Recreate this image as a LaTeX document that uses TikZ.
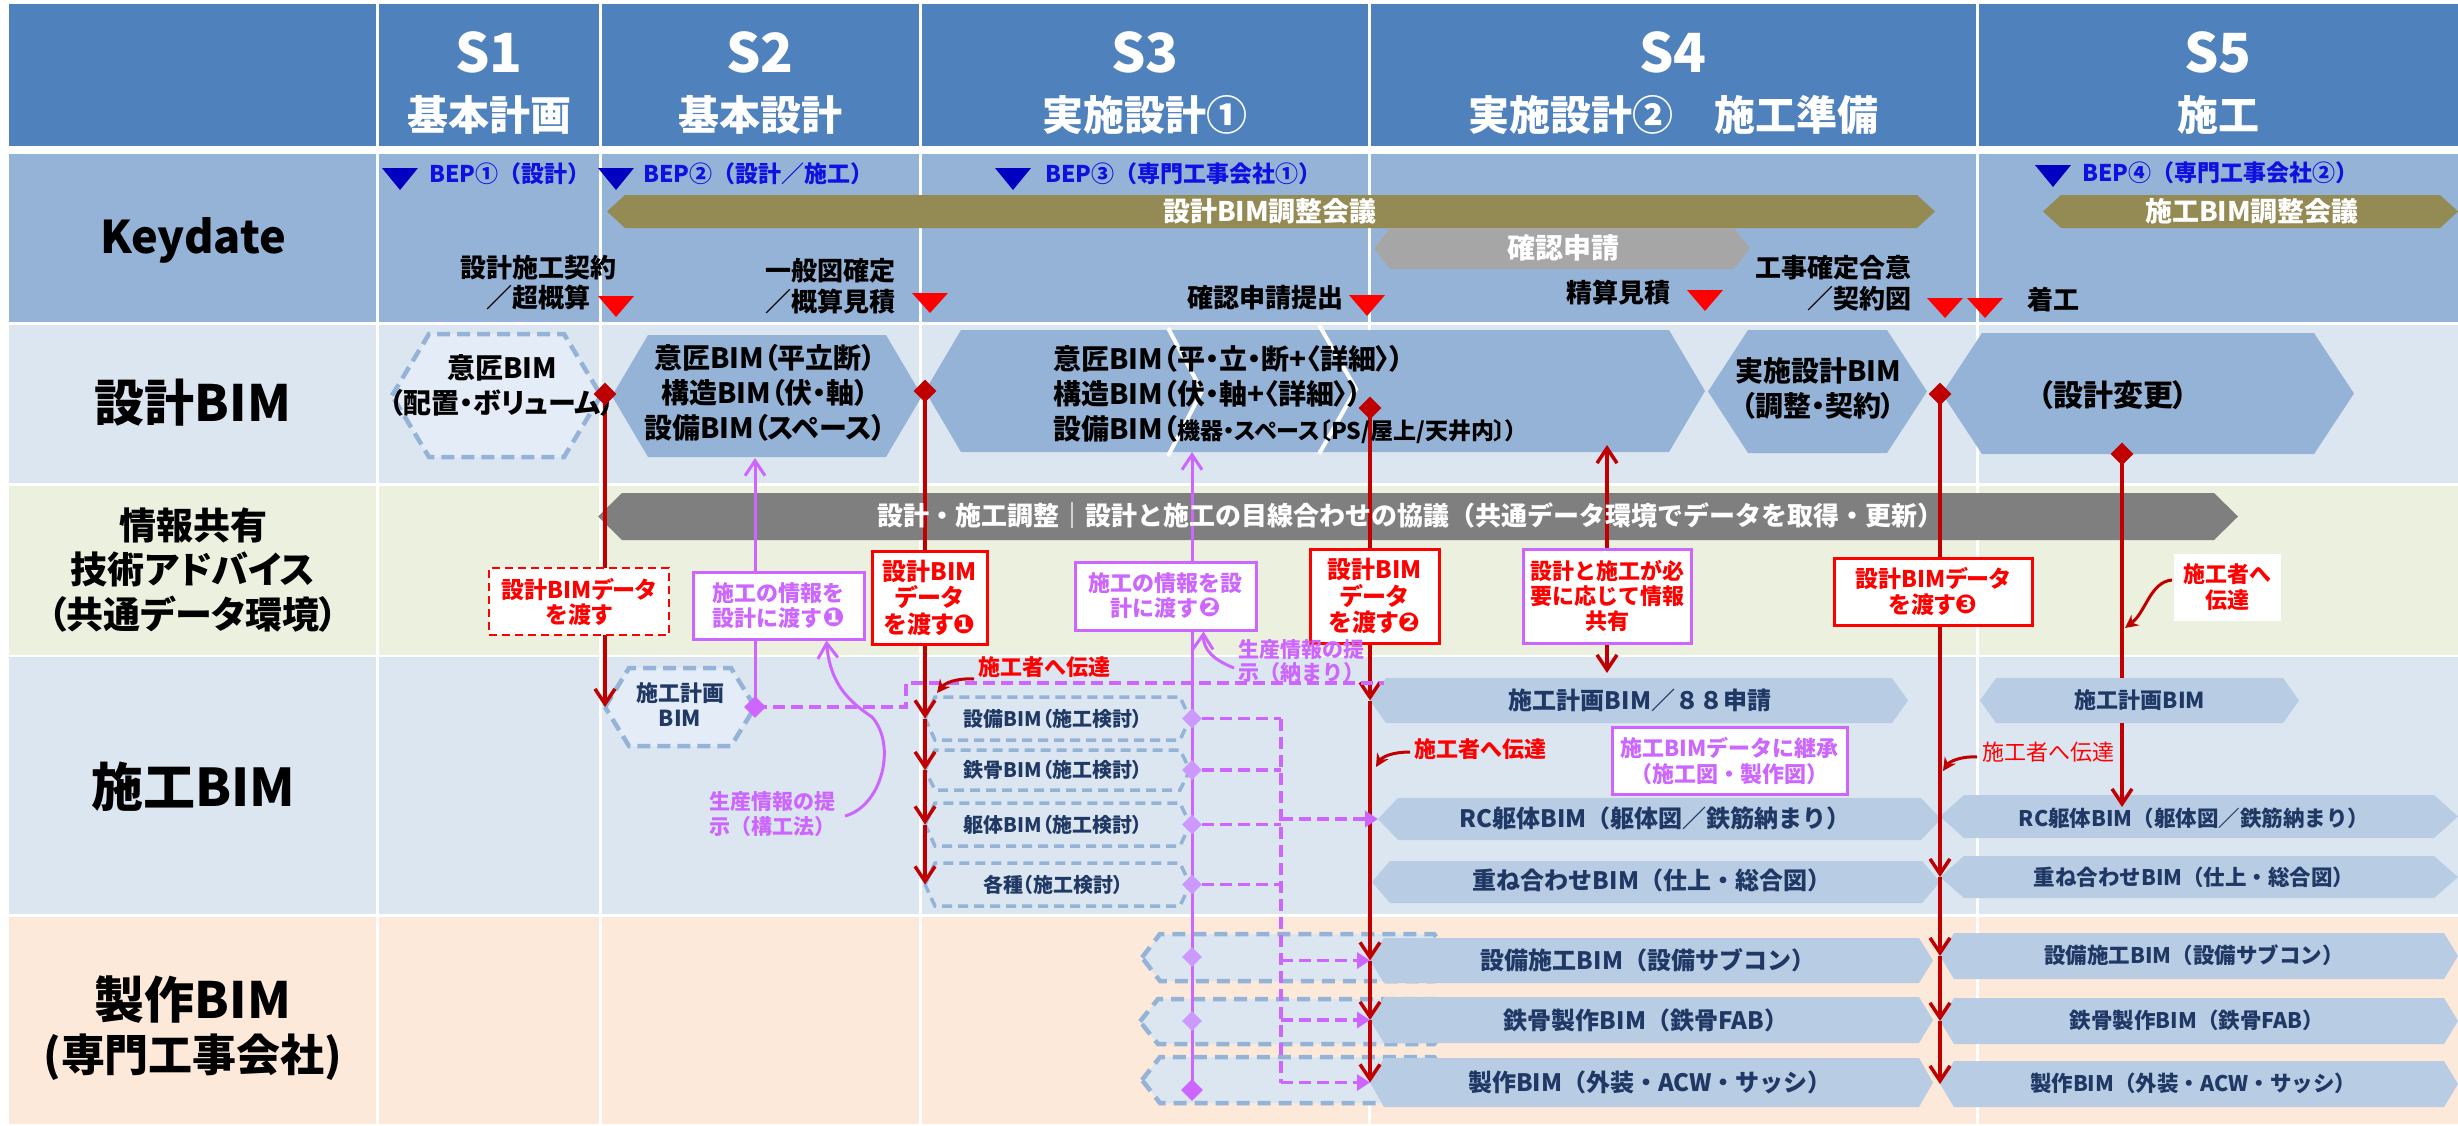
\documentclass[tikz,border=0pt]{standalone}
\usepackage{fontspec}
\setmainfont{Noto Sans CJK JP}
\newfontfamily\jpp{Noto Sans CJK JP}[RawFeature=+palt]
\newfontfamily\dvs{DejaVu Sans}
\usetikzlibrary{arrows.meta,shapes.geometric}
\pgfdeclarelayer{back}
\pgfdeclarelayer{lines}
\pgfsetlayers{back,lines,main}

\definecolor{hdr}{HTML}{4F81BD}
\definecolor{kd}{HTML}{95B3D7}
\definecolor{rowa}{HTML}{DCE6F1}
\definecolor{rowi}{HTML}{EBF1DE}
\definecolor{rowf}{HTML}{FDE9D9}
\definecolor{hexd}{HTML}{95B3D7}
\definecolor{hexc}{HTML}{B8CCE4}
\definecolor{dashf}{HTML}{E4ECF7}
\definecolor{olv}{HTML}{948A54}
\definecolor{gry}{HTML}{A6A6A6}
\definecolor{dgry}{HTML}{7F7F7F}
\definecolor{dred}{HTML}{C00000}
\definecolor{brd}{HTML}{FF0000}
\definecolor{purp}{HTML}{CC66FF}
\definecolor{lpurp}{HTML}{CC99FF}
\definecolor{navy}{HTML}{1F3864}
\definecolor{bept}{HTML}{1010E0}
\definecolor{bepm}{HTML}{0000C0}

\newcommand\fsz[2]{\fontsize{#1}{#2}\selectfont}
\newcommand\cdig[1]{{\dvs\fontsize{26}{26}\selectfont #1}}
% #1 style, #2 name, #3 xl, #4 xr, #5 yt, #6 yb, #7 inset
\newcommand\myhex[7]{%
  \path[#1] (#3,{(#5+#6)/2}) -- ({#3+#7},#5) -- ({#4-#7},#5) -- (#4,{(#5+#6)/2}) -- ({#4-#7},#6) -- ({#3+#7},#6) -- cycle;
  \coordinate (#2) at ({(#3+#4)/2},{(#5+#6)/2});
  \coordinate (#2-l) at (#3,{(#5+#6)/2});
  \coordinate (#2-r) at (#4,{(#5+#6)/2});
}
\newcommand\btri[3]{\fill[bepm] ({#1-18},#2) -- ({#1+18},#2) -- (#1,#3) -- cycle;}
\newcommand\rtri[3]{\fill[brd] ({#1-18},#2) -- ({#1+18},#2) -- (#1,#3) -- cycle;}

\begin{document}
\begin{tikzpicture}[x=1pt,y=-1pt,
  redl/.style={draw=dred, line width=3.5pt},
  purl/.style={draw=purp, line width=3pt},
  purd/.style={draw=purp, line width=3.5pt, dash pattern=on 12pt off 6pt},
  rbarb/.style={-{Straight Barb[length=15pt,width=20pt]}},
  pbarb/.style={-{Straight Barb[length=15pt,width=20pt]}},
  ptri/.style={-{Triangle[length=13pt,width=16pt]}},
  rstl/.style={-{Stealth[length=13pt,width=13pt]}},
  redc/.style={draw=dred, line width=3pt},
  dashh/.style={draw=kd, line width=4.5pt, dash pattern=on 13pt off 7pt, fill=dashf},
  dashs/.style={draw=kd, line width=3.5pt, dash pattern=on 10pt off 6pt, fill=rowa},
  dashf/.style={draw=kd, line width=4.5pt, dash pattern=on 13pt off 8pt, fill=rowa},
  rdia/.style={diamond, aspect=1, fill=dred, minimum size=23pt, inner sep=0pt},
  pdia/.style={diamond, aspect=1, fill=purp, minimum size=22pt, inner sep=0pt},
  ldia/.style={diamond, aspect=1, fill=lpurp, minimum size=20pt, inner sep=0pt},
  tx/.style={inner sep=0pt, align=center},
  rbox/.style={draw=brd, line width=3pt, fill=white, inner sep=0pt, align=center, text=brd},
  rdbox/.style={draw=brd, line width=2.5pt, dash pattern=on 8pt off 5pt, fill=white, inner sep=0pt, align=center, text=brd},
  pbox/.style={draw=purp, line width=3pt, fill=white, inner sep=0pt, align=center, text=purp},
  wbox/.style={fill=white, inner sep=0pt, align=center, text=brd},
]
\useasboundingbox (0,0) rectangle (2458,1125);

\begin{pgfonlayer}{back}
\fill[white] (0,0) rectangle (2458,1125);
\foreach \ya/\yb/\col in {4/146/hdr, 154/322/kd, 325/483/rowa, 486/655/rowi, 657/914/rowa, 917/1124/rowf}{
  \foreach \xa/\xb in {9/375.5, 378.5/598.5, 601.5/918.5, 921.5/1367.5, 1370.5/1975.5, 1978.5/2458}{
    \fill[\col] (\xa,\ya) rectangle (\xb,\yb);
  }
}
% keydate shapes
\myhex{fill=olv}{kb1}{607}{1935}{195}{228}{18}
\myhex{fill=gry}{kg}{1374}{1750}{228}{269}{16}
\myhex{fill=olv}{kb2}{2043}{2458}{195}{228}{18}
\btri{400}{168}{190}
\btri{616}{168}{190}
\btri{1013}{168}{190}
\btri{2053}{165}{187}
\rtri{616}{296}{317}
\rtri{930}{293}{313}
\rtri{1367}{295}{316}
\rtri{1705}{290}{311}
\rtri{1945}{298}{318}
\rtri{1985}{298}{318}
% design BIM
\myhex{dashh}{hs1}{392}{601}{334}{457}{37}
\myhex{fill=hexd}{hs2}{612}{922}{335}{457}{36}
\myhex{fill=hexd}{hs3}{925}{1705}{330}{452}{36}
\myhex{fill=hexd}{hs4}{1708}{1927}{330}{453}{40}
\myhex{fill=hexd}{hs5}{1942}{2354}{333}{454}{40}
\draw[white, line width=4pt] (1168,328) -- (1202,391) -- (1168,456);
\draw[white, line width=4pt] (1319,325) -- (1356,389) -- (1319,454);
% info bar
\myhex{fill=dgry}{ib}{598}{2238}{493}{540}{24}
% construction BIM
\myhex{dashh}{hp}{605}{755}{668}{746}{24}
\myhex{dashs}{k1}{925}{1190}{697}{740}{10}
\myhex{dashs}{k2}{925}{1190}{750}{790}{10}
\myhex{dashs}{k3}{925}{1190}{803}{846}{10}
\myhex{dashs}{k4}{925}{1190}{863}{906}{10}
\myhex{fill=hexc}{h88}{1370}{1908}{678}{723}{16}
\myhex{fill=hexc}{rc4}{1378}{1941}{798}{840}{20}
\myhex{fill=hexc}{ks4}{1372}{1940}{861}{903}{18}
\myhex{fill=hexc}{hp5}{1980}{2299}{678}{723}{16}
\myhex{fill=hexc}{rc5}{1940}{2458}{795}{838}{24}
\myhex{fill=hexc}{ks5}{1940}{2458}{856}{898}{24}
% fabrication
\myhex{dashf}{fd1}{1142}{1452}{934}{981}{18}
\myhex{dashf}{fd2}{1140}{1452}{999}{1044}{18}
\myhex{dashf}{fd3}{1142}{1452}{1057}{1103}{18}
\myhex{fill=hexc}{f41}{1370}{1933}{938}{983}{14}
\myhex{fill=hexc}{f42}{1370}{1933}{997}{1043}{14}
\myhex{fill=hexc}{f43}{1370}{1933}{1058}{1107}{14}
\myhex{fill=hexc}{f51}{1940}{2458}{933}{979}{14}
\myhex{fill=hexc}{f52}{1940}{2458}{998}{1044}{14}
\myhex{fill=hexc}{f53}{1940}{2458}{1061}{1107}{14}
% free ends
\coordinate (r5a) at (2122,678);
\coordinate (r5b) at (2122,723);
\coordinate (r5e) at (2122,807);
\coordinate (r6t) at (1607,445);
\coordinate (r6b) at (1607,673);
\coordinate (p1t) at (755,458);
\coordinate (p2t) at (1192,452);
\coordinate (dq) at (1384,683);
\coordinate (bus1) at (1281,718.5);
\coordinate (bus2) at (1281,1082.5);
\coordinate (c1s) at (845,816);
\coordinate (c2s) at (1234,668);
\coordinate (c3s) at (974,679);
\coordinate (c3e) at (937,693);
\coordinate (c4s) at (1410,752);
\coordinate (c4e) at (1376,767);
\coordinate (c5s) at (1977,757);
\coordinate (c5e) at (1943,771);
\coordinate (c6s) at (2172,580);
\coordinate (c6e) at (2125,628);
\end{pgfonlayer}

% ---------- header ----------
\node[tx, text=white, font={\fsz{54}{60}\bfseries}] (h1s) at (489,52) {S1};
\node[tx, text=white, font={\fsz{41}{46}\bfseries}] (h1n) at (489,115) {基本計画};
\node[tx, text=white, font={\fsz{54}{60}\bfseries}] (h2s) at (760,52) {S2};
\node[tx, text=white, font={\fsz{41}{46}\bfseries}] (h2n) at (760,115) {基本設計};
\node[tx, text=white, font={\fsz{54}{60}\bfseries}] (h3s) at (1145,52) {S3};
\node[tx, text=white, font={\fsz{41}{46}\bfseries}] (h3n) at (1145,115) {実施設計①};
\node[tx, text=white, font={\fsz{54}{60}\bfseries}] (h4s) at (1673,52) {S4};
\node[tx, text=white, font={\fsz{41}{46}\bfseries}] (h4n) at (1673,115) {実施設計②　施工準備};
\node[tx, text=white, font={\fsz{54}{60}\bfseries}] (h5s) at (2218,52) {S5};
\node[tx, text=white, font={\fsz{41}{46}\bfseries}] (h5n) at (2218,115) {施工};

% ---------- row labels ----------
\node[tx, font={\fsz{45}{50}\bfseries}] (lk) at (193,240) {Keydate};
\node[tx, font={\fsz{50}{55}\bfseries}] (ld) at (193,403) {設計BIM};
\node[tx, font={\jpp\fsz{37}{44.5}\bfseries}] (li) at (193,570) {情報共有\\技術アドバイス\\（共通データ環境）};
\node[tx, font={\fsz{52}{56}\bfseries}] (lc) at (193,787) {施工BIM};
\node[tx, font={\fsz{50}{55}\bfseries}] (lf1) at (193,1000) {製作BIM};
\node[tx, font={\fsz{44}{50}\bfseries}] (lf2) at (193,1057) {(専門工事会社)};

% ---------- keydate ----------
\node[tx, anchor=west, text=bept, font={\fsz{23}{26}\bfseries}] (bep1) at (429,174) {BEP①（設計）};
\node[tx, anchor=west, text=bept, font={\fsz{23}{26}\bfseries}] (bep2) at (643,174) {BEP②（設計／施工）};
\node[tx, anchor=west, text=bept, font={\fsz{23}{26}\bfseries}] (bep3) at (1045,174) {BEP③（専門工事会社①）};
\node[tx, anchor=west, text=bept, font={\fsz{23}{26}\bfseries}] (bep4) at (2082,173) {BEP④（専門工事会社②）};
\node[tx, text=white, font={\fsz{27}{30}\bfseries}] (kb1t) at (1270,211) {設計BIM調整会議};
\node[tx, text=white, font={\fsz{27}{30}\bfseries}] (kb2t) at (2252,211) {施工BIM調整会議};
\node[tx, text=white, font={\fsz{28}{30}\bfseries}] (kgt) at (1563,248) {確認申請};
\node[tx, font={\fsz{26}{30}\bfseries}] (m1) at (538,283) {設計施工契約\\／超概算};
\node[tx, font={\fsz{26}{31}\bfseries}] (m2) at (830,286) {一般図確定\\／概算見積};
\node[tx, font={\fsz{26}{30}\bfseries}] (m3) at (1265,298) {確認申請提出};
\node[tx, font={\fsz{26}{30}\bfseries}] (m4) at (1618,293) {精算見積};
\node[tx, align=right, anchor=east, font={\fsz{26}{31}\bfseries}] (m5) at (1912,283) {工事確定合意\\／契約図};
\node[tx, font={\fsz{26}{30}\bfseries}] (m6) at (2053,300) {着工};

% ---------- design BIM texts ----------
\node[tx, font={\jpp\fsz{28}{35}\bfseries}] (s1t) at (502,385) {意匠BIM\\（配置・ボリューム）};
\node[tx, font={\jpp\fsz{28}{35}\bfseries}] (s2t) at (765,393) {意匠BIM（平立断）\\構造BIM（伏・軸）\\設備BIM（スペース）};
\node[tx, align=left, anchor=west, font={\jpp\fsz{28}{35}\bfseries}] (s3t) at (1053,395) {意匠BIM（平・立・断+〈詳細〉）\\構造BIM（伏・軸+〈詳細〉）\\設備BIM（{\fsz{23}{35}機器・スペース〔PS/屋上/天井内〕）}};
\node[tx, font={\jpp\fsz{28}{35}\bfseries}] (s4t) at (1818,388) {実施設計BIM\\（調整・契約）};
\node[tx, font={\jpp\fsz{30}{35}\bfseries}] (s5t) at (2113,395) {（設計変更）};

% ---------- info row ----------
\node[tx, text=white, font={\fsz{26}{30}\bfseries}] (gbt) at (1410,516) {設計・施工調整｜設計と施工の目線合わせの協議（共通データ環境でデータを取得・更新）};
\node[rdbox, minimum width=180pt, minimum height=67pt, font={\jpp\fsz{23}{25}\bfseries}] (bd0) at (579,601.5) {設計BIMデータ\\を渡す};
\node[pbox, minimum width=171pt, minimum height=67pt, font={\fsz{22}{25}\bfseries}] (bp1) at (778.5,605.5) {施工の情報を\\設計に渡す\cdig{❶}};
\node[rbox, minimum width=115pt, minimum height=93pt, font={\jpp\fsz{24}{26.5}\bfseries}] (br1) at (929.5,597.5) {設計BIM\\データ\\を渡す\cdig{❶}};
\node[pbox, minimum width=181pt, minimum height=68pt, font={\fsz{22}{25}\bfseries}] (bp2) at (1165.5,596) {施工の情報を設\\計に渡す\cdig{❷}};
\node[rbox, minimum width=129pt, minimum height=94pt, font={\jpp\fsz{24}{26.5}\bfseries}] (br2) at (1374.5,596) {設計BIM\\データ\\を渡す\cdig{❷}};
\node[pbox, text=brd, minimum width=168pt, minimum height=94pt, font={\fsz{22}{25}\bfseries}] (bp3) at (1607,596) {設計と施工が必\\要に応じて情報\\共有};
\node[rbox, minimum width=198pt, minimum height=67pt, font={\jpp\fsz{23}{26}\bfseries}] (br3) at (1933,591.5) {設計BIMデータ\\を渡す\cdig{❸}};
\node[wbox, minimum width=107pt, minimum height=67pt, font={\fsz{22}{26}\bfseries}] (bw) at (2227.5,587.5) {施工者へ\\伝達};
\node[tx, align=left, anchor=west, text=purp, font={\fsz{21}{25}\bfseries}] (lb1) at (709,814.5) {生産情報の提\\示（構工法）};
\node[tx, align=left, anchor=west, text=purp, font={\fsz{21}{23}\bfseries}] (lb2) at (1238,661.5) {生産情報の提\\示（納まり）};

% ---------- construction BIM texts ----------
\node[tx, text=navy, font={\fsz{22}{25}\bfseries}] (hpt) at (680,704.5) {施工計画\\BIM};
\node[tx, text=navy, font={\jpp\fsz{20}{24}\bfseries}] (k1t) at (1053,718.5) {設備BIM（施工検討）};
\node[tx, text=navy, font={\jpp\fsz{20}{24}\bfseries}] (k2t) at (1053,770) {鉄骨BIM（施工検討）};
\node[tx, text=navy, font={\jpp\fsz{20}{24}\bfseries}] (k3t) at (1053,824.5) {躯体BIM（施工検討）};
\node[tx, text=navy, font={\jpp\fsz{20}{24}\bfseries}] (k4t) at (1053,884.5) {各種（施工検討）};
\node[tx, text=navy, font={\fsz{24}{28}\bfseries}] (t88) at (1640,700) {施工計画BIM／８８申請};
\node[tx, text=navy, font={\fsz{24}{28}\bfseries}] (rc4t) at (1655,818) {RC躯体BIM（躯体図／鉄筋納まり）};
\node[tx, text=navy, font={\fsz{24}{28}\bfseries}] (ks4t) at (1652,880) {重ね合わせBIM（仕上・総合図）};
\node[tx, text=navy, font={\fsz{22}{26}\bfseries}] (hp5t) at (2140,700) {施工計画BIM};
\node[tx, text=navy, font={\fsz{21.5}{26}\bfseries}] (rc5t) at (2194,818) {RC躯体BIM（躯体図／鉄筋納まり）};
\node[tx, text=navy, font={\fsz{21.5}{26}\bfseries}] (ks5t) at (2194,877) {重ね合わせBIM（仕上・総合図）};
\node[pbox, minimum width=235pt, minimum height=67pt, font={\fsz{22}{26}\bfseries}] (bp4) at (1729.5,760.5) {施工BIMデータに継承\\（施工図・製作図）};
\node[tx, text=brd, font={\fsz{22}{25}\bfseries}] (tl1) at (1044,667) {施工者へ伝達};
\node[tx, text=brd, font={\fsz{22}{25}\bfseries}] (tl2) at (1480,749) {施工者へ伝達};
\node[tx, text=brd, font={\fsz{22}{25}}] (tl3) at (2048,752) {施工者へ伝達};

% ---------- fabrication texts ----------
\node[tx, text=navy, font={\fsz{24}{28}\bfseries}] (f41t) at (1648,960) {設備施工BIM（設備サブコン）};
\node[tx, text=navy, font={\fsz{24}{28}\bfseries}] (f42t) at (1646,1020) {鉄骨製作BIM（鉄骨FAB）};
\node[tx, text=navy, font={\fsz{24}{28}\bfseries}] (f43t) at (1650,1082) {製作BIM（外装・ACW・サッシ）};
\node[tx, text=navy, font={\fsz{21.5}{26}\bfseries}] (f51t) at (2194,955) {設備施工BIM（設備サブコン）};
\node[tx, text=navy, font={\fsz{21.5}{26}\bfseries}] (f52t) at (2197,1020) {鉄骨製作BIM（鉄骨FAB）};
\node[tx, text=navy, font={\fsz{21.5}{26}\bfseries}] (f53t) at (2193,1083) {製作BIM（外装・ACW・サッシ）};

% ---------- diamonds ----------
\node[rdia] (d1) at (605,394) {};
\node[rdia] (d2) at (925,391) {};
\node[rdia] (d3) at (1370,408) {};
\node[rdia] (d4) at (1940,394) {};
\node[rdia] (d5) at (2122,454) {};
\node[pdia] (pd0) at (hp-r) {};
\node[ldia] (pk1) at (1192,718.5) {};
\node[ldia] (pk2) at (1192,770) {};
\node[ldia] (pk3) at (1192,824.5) {};
\node[ldia] (pk4) at (1192,884.5) {};
\node[ldia] (pf1) at (1192,957) {};
\node[ldia] (pf2) at (1192,1021) {};
\node[pdia] (pf3) at (1192,1090) {};

% ---------- connectors ----------
\begin{pgfonlayer}{lines}
\draw[redl,rbarb] (d1.center) -- (hp-l);
\draw[redl,rbarb] (d2.center) -- (k1-l);
\draw[redl,rbarb] (k1-l) -- (k2-l);
\draw[redl,rbarb] (k2-l) -- (k3-l);
\draw[redl,rbarb] (k3-l) -- (k4-l);
\draw[redl,rbarb] (d3.center) -- (h88-l);
\draw[redl,rbarb] (h88-l) -- (f41-l);
\draw[redl,rbarb] (f41-l) -- (f42-l);
\draw[redl,rbarb] (f42-l) -- (f43-l);
\draw[redl,rbarb] (d4.center) -- (ks5-l);
\draw[redl,rbarb] (ks5-l) -- (f51-l);
\draw[redl,rbarb] (f51-l) -- (f52-l);
\draw[redl,rbarb] (f52-l) -- (f53-l);
\draw[redl] (d5.center) -- (r5a);
\draw[redl,rbarb] (r5b) -- (r5e);
\draw[redl,rbarb] (bp3.north) -- (r6t);
\draw[redl,rbarb] (bp3.south) -- (r6b);
\draw[purl,pbarb] (pd0.center) -- (p1t);
\draw[purl,pbarb] (pf3.center) -- (p2t);
\draw[purd] (pd0.center) -- ++(151,0) |- (dq);
\draw[purd] (pk1) -- (bus1);
\draw[purd] (pk2) -- (pk2 -| bus1);
\draw[purd] (pk3) -- (pk3 -| bus1);
\draw[purd] (pk4) -- (pk4 -| bus1);
\draw[purd] (bus1) -- (bus2);
\draw[purd,ptri] (bus1 |- rc4-l) -- (rc4-l);
\draw[purd,ptri] (bus1 |- f41-l) -- (f41-l);
\draw[purd,ptri] (bus1 |- f42-l) -- (f42-l);
\draw[purd,ptri] (bus1 |- f43-l) -- (f43-l);
\draw[purl,pbarb] (c1s) .. controls (882,806) and (897,745) .. (872,717) .. controls (850,702) and (830,685) .. ([xshift=48pt]bp1.south);
\draw[purl,pbarb] (c2s) .. controls (1214,660) and (1203,650) .. ([xshift=38pt]bp2.south);
\draw[redc,rstl] (c3s) .. controls (956,678) and (945,683) .. (c3e);
\draw[redc,rstl] (c4s) .. controls (1392,752) and (1382,757) .. (c4e);
\draw[redc,rstl] (c5s) .. controls (1960,756) and (1949,762) .. (c5e);
\draw[redc,rstl] (c6s) .. controls (2150,582) and (2146,612) .. (c6e);
\end{pgfonlayer}
\end{tikzpicture}
\end{document}
